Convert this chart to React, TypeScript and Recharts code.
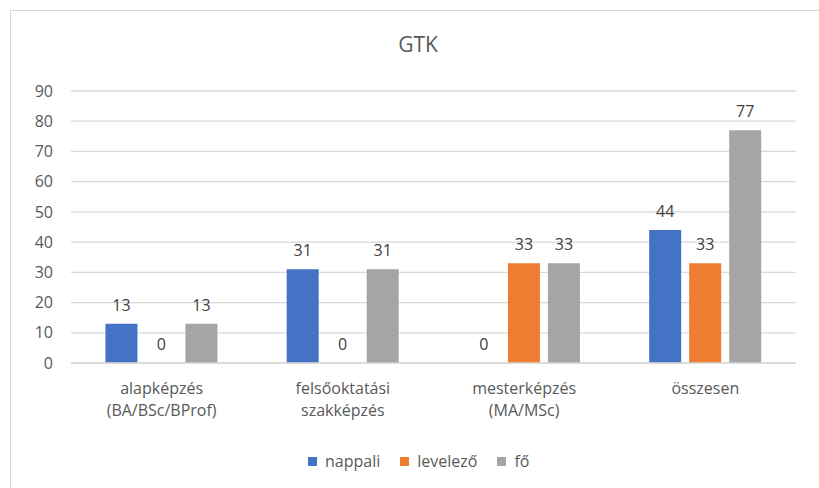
import React from 'react'
import { BarChart, Bar, XAxis, YAxis, CartesianGrid, Legend, LabelList } from 'recharts'

const categories = [
  'alapképzés\n(BA/BSc/BProf)',
  'felsőoktatási\nszakképzés',
  'mesterképzés\n(MA/MSc)',
  'összesen',
]
const nappali = [13, 31, 0, 44]
const levelezo = [0, 0, 33, 33]
const fo = [13, 31, 33, 77]
const yTicks = [0, 10, 20, 30, 40, 50, 60, 70, 80, 90]

const data = categories.map((name, i) => ({
  name,
  nappali: nappali[i],
  levelező: levelezo[i],
  fő: fo[i],
}))

const series = [
  { key: 'nappali', color: '#4472C4' },
  { key: 'levelező', color: '#ED7D31' },
  { key: 'fő', color: '#A5A5A5' },
]

const FONT = '"Open Sans", sans-serif'

function CategoryTick({ x, y, payload }: any) {
  const lines = String(payload.value).split('\n')
  return (
    <text x={x} y={y} textAnchor="middle" fill="#595959" fontSize={16} fontFamily={FONT}>
      {lines.map((line, i) => (
        <tspan key={i} x={x} dy={i === 0 ? 23 : 22}>
          {line}
        </tspan>
      ))}
    </text>
  )
}

function ValueLabel({ x, y, width, value }: any) {
  return (
    <text
      x={Number(x) + Number(width) / 2}
      y={Number(y) - 13}
      textAnchor="middle"
      fill="#404040"
      fontSize={16}
      fontFamily={FONT}
    >
      {value}
    </text>
  )
}

function LegendContent() {
  return (
    <div style={{ display: 'flex', gap: 20, fontFamily: FONT, fontSize: 16, color: '#595959' }}>
      {series.map((s) => (
        <div key={s.key} style={{ display: 'flex', alignItems: 'center', gap: 8 }}>
          <div style={{ width: 9, height: 9, background: s.color }} />
          <span>{s.key}</span>
        </div>
      ))}
    </div>
  )
}

export default function App() {
  return (
    <div style={{ position: 'absolute', left: 0, top: 0, width: 819, height: 488, overflow: 'hidden', background: '#fff' }}>
      <div
        style={{
          position: 'absolute',
          left: 10,
          top: 10,
          width: 830,
          height: 500,
          border: '1px solid #D9D9D9',
        }}
      />
      <div
        style={{
          position: 'absolute',
          top: 30,
          left: 0,
          width: 836,
          textAlign: 'center',
          fontFamily: FONT,
          fontSize: 21,
          color: '#595959',
        }}
      >
        GTK
      </div>
      <div style={{ position: 'absolute', left: 0, top: 0 }}>
        <BarChart
          width={819}
          height={488}
          data={data}
          margin={{ top: 91, right: 23, bottom: 43, left: 0 }}
          barGap={8}
          barCategoryGap="19%"
        >
          <CartesianGrid vertical={false} stroke="#D9D9D9" strokeWidth={1.3} />
          <XAxis
            dataKey="name"
            tick={<CategoryTick />}
            tickLine={false}
            axisLine={{ stroke: '#D9D9D9', strokeWidth: 1.3 }}
            interval={0}
            height={60}
          />
          <YAxis
            width={71}
            domain={[0, 90]}
            ticks={yTicks}
            interval={0}
            tickLine={false}
            axisLine={false}
            tickMargin={12}
            tick={{ fill: '#595959', fontSize: 16, fontFamily: FONT }}
          />
          <Legend
            content={<LegendContent />}
            wrapperStyle={{ position: 'absolute', left: 308, top: 450, width: 'auto' }}
          />
          {series.map((s) => (
            <Bar
              key={s.key}
              dataKey={s.key}
              fill={s.color}
              minPointSize={0.01}
              isAnimationActive={false}
            >
              <LabelList dataKey={s.key} content={<ValueLabel />} />
            </Bar>
          ))}
        </BarChart>
      </div>
    </div>
  )
}
